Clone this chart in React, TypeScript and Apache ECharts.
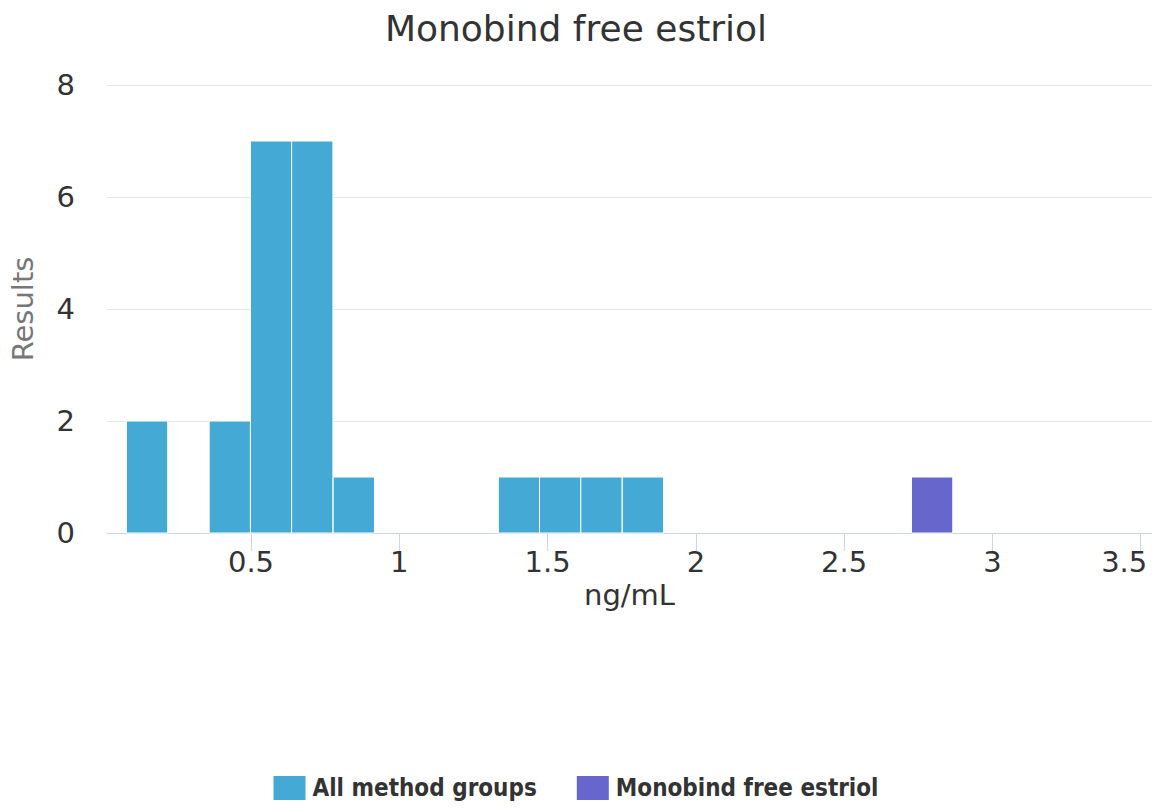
import React, { useEffect, useRef } from "react";
import * as echarts from "echarts";

// Histogram bins (ng/mL)
const binWidth = 0.1393;
const allLows = [0.08, 0.359, 0.498, 0.637, 0.777, 1.334, 1.473, 1.612, 1.752];
const allCounts = [2, 2, 7, 7, 1, 1, 1, 1, 1];
const monoLows = [2.727];
const monoCounts = [1];
const xTicks = [0.5, 1, 1.5, 2, 2.5, 3, 3.5];
const seriesNames = ["All method groups", "Monobind free estriol"];
const titleText = "Monobind free estriol";

const FONT = "'DejaVu Sans', sans-serif";

function makeRender(color: string) {
  return (params: any, api: any) => {
    const lo = api.value(0);
    const hi = api.value(1);
    const c = api.value(2);
    const p0 = api.coord([lo, c]);
    const p1 = api.coord([hi, 0]);
    return {
      type: "rect",
      shape: { x: p0[0], y: p0[1], width: p1[0] - p0[0], height: p1[1] - p0[1] },
      style: { fill: color, stroke: "#ffffff", lineWidth: 1 },
    };
  };
}

export default function App() {
  const ref = useRef<HTMLDivElement>(null);
  useEffect(() => {
    document.body.style.margin = "0";
    document.documentElement.style.overflow = "hidden";
    document.body.style.overflow = "hidden";
    const chart = echarts.init(ref.current!, undefined, { renderer: "svg", width: 1152, height: 811 });
    const allData = allLows.map((lo, i) => [lo, lo + binWidth, allCounts[i]]);
    const monoData = monoLows.map((lo, i) => [lo, lo + binWidth, monoCounts[i]]);
    const lastTick = xTicks[xTicks.length - 1];
    chart.setOption({
      animation: false,
      textStyle: { fontFamily: FONT },
      title: {
        text: titleText,
        left: "center",
        top: 5,
        textStyle: { fontSize: 36, fontWeight: "normal", color: "#333333", fontFamily: FONT },
      },
      grid: {
        left: 107,
        right: 0,
        top: 85,
        bottom: 278,
        containLabel: false,
        outerBoundsMode: "none",
      },
      legend: {
        bottom: 6,
        left: "center",
        icon: "rect",
        itemWidth: 32,
        itemHeight: 24,
        itemGap: 40,
        textStyle: {
          fontSize: 24,
          fontWeight: "bold",
          color: "#333333",
          fontFamily: "'DejaVu Sans Condensed', 'DejaVu Sans', sans-serif",
          padding: [0, 0, 0, 2],
        },
        data: seriesNames,
      },
      xAxis: {
        type: "value",
        min: 0.0145,
        max: 3.538,
        name: "ng/mL",
        nameLocation: "middle",
        nameGap: 46,
        nameTextStyle: { fontSize: 29, color: "#333333" },
        axisLine: { show: true, lineStyle: { color: "#ccd6eb", width: 1 } },
        axisTick: { show: true, length: 18, customValues: xTicks, lineStyle: { color: "#ccd6eb" } },
        axisLabel: {
          customValues: xTicks,
          fontSize: 29,
          color: "#333333",
          margin: 14,
          formatter: (v: number) => (v === lastTick ? "{r|" + v + "}" : String(v)),
          rich: {
            r: { fontSize: 29, color: "#333333", fontFamily: FONT, padding: [0, 33, 0, 0] },
          },
        },
        splitLine: { show: false },
      },
      yAxis: {
        type: "value",
        min: 0,
        max: 8,
        interval: 2,
        name: "Results",
        nameLocation: "middle",
        nameGap: 70,
        nameTextStyle: { fontSize: 29, color: "#777777" },
        axisLine: { show: false },
        axisTick: { show: false },
        axisLabel: { fontSize: 29, color: "#333333", margin: 32 },
        splitLine: { lineStyle: { color: "#e6e6e6", width: 1 } },
      },
      series: [
        {
          name: seriesNames[0],
          type: "custom",
          itemStyle: { color: "#44aad5" },
          renderItem: makeRender("#44aad5"),
          encode: { x: [0, 1], y: 2 },
          data: allData,
        },
        {
          name: seriesNames[1],
          type: "custom",
          itemStyle: { color: "#6666cc" },
          renderItem: makeRender("#6666cc"),
          encode: { x: [0, 1], y: 2 },
          data: monoData,
        },
      ],
    });
    return () => chart.dispose();
  }, []);
  return (
    <div
      ref={ref}
      style={{ position: "absolute", left: 0, top: 0, width: 1152, height: 811 }}
    />
  );
}
